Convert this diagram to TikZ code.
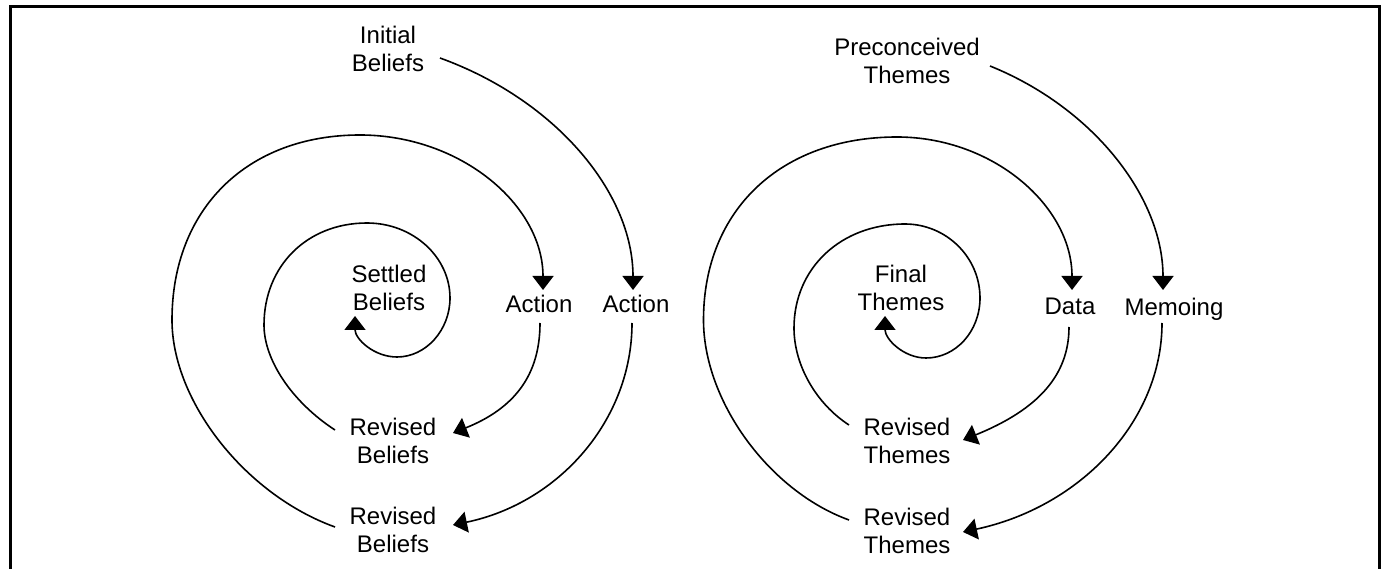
\documentclass[tikz,border=0pt]{standalone}
\usepackage{fontspec}
\setmainfont{Liberation Sans}
\usetikzlibrary{arrows.meta}
\begin{document}
\begin{tikzpicture}[x=1pt,y=-1pt,
  lbl/.style={font=\fontsize{24}{28}\selectfont, align=center, inner sep=0pt},
  flow/.style={line width=1.6pt, -{Triangle[width=21pt,length=14pt]}},
  frame/.style={line width=3pt}]
\useasboundingbox (0,0) rectangle (1382,569);
\draw[frame] (10,575) -- (10,7) -- (1379,7) -- (1379,575);

% ---------- left spiral ----------
\node[lbl] (ib)  at (388,49)  {Initial\\Beliefs};
\node[lbl] (a1)  at (539,304) {Action};
\node[lbl] (a2)  at (636,304) {Action};
\node[lbl] (sb)  at (389,288) {Settled\\Beliefs};
\node[lbl] (rb1) at (393,441) {Revised\\Beliefs};
\node[lbl] (rb2) at (393,530) {Revised\\Beliefs};
\coordinate (lw) at (172,320);
\coordinate (lt) at (360,135);
\coordinate (iw) at (264,325);
\coordinate (it) at (367,223);
\coordinate (ie) at (450,298);
\coordinate (is) at (397,357);

\draw[flow] ([shift={(52,9)}]ib.center) .. controls +(116,42) and +(0,-97) .. ([shift={(-3,-14)}]a2.center);
\draw[flow] ([shift={(-4,19)}]a2.center) .. controls +(0,97) and +(106,-22) .. ([shift={(60,-5)}]rb2.center);
\draw[flow] ([shift={(-58,-3)}]rb2.center) .. controls +(-90,-32.5) and +(0,81) .. (lw)
   .. controls +(0,-111) and +(-113,0) .. (lt)
   .. controls +(100.6,0) and +(0,-85) .. ([shift={(4,-14)}]a1.center);
\draw[flow] ([shift={(1,19)}]a1.center) .. controls +(0,52.5) and +(61,-24.5) .. ([shift={(60,-8)}]rb1.center);
\draw[flow] ([shift={(-58,-11)}]rb1.center) .. controls +(-43,-28) and +(0,35) .. (iw)
   .. controls +(0,-59) and +(-60,0) .. (it)
   .. controls +(46,0) and +(0,-41) .. (ie)
   .. controls +(0,32) and +(29,0) .. (is)
   .. controls +(-23,0) and +(0,23) .. ([shift={(-34,28)}]sb.center);

% ---------- right spiral ----------
\node[lbl] (pt)  at (907,60.5)   {Preconceived\\Themes};
\node[lbl] (dt)  at (1070,306.5) {Data};
\node[lbl, text depth=0pt] (mm) at (1174,306.5) {Memoing};
\node[lbl] (ft)  at (901,287.5)  {Final\\Themes};
\node[lbl] (rt1) at (907,441)    {Revised\\Themes};
\node[lbl] (rt2) at (907,531)    {Revised\\Themes};
\coordinate (rw)  at (703.5,320);
\coordinate (rtp) at (897,137);
\coordinate (jw)  at (794,328);
\coordinate (jt)  at (905,224);
\coordinate (je)  at (980,298);
\coordinate (js)  at (926,358);

\draw[flow] ([shift={(83,5.5)}]pt.center) .. controls +(104,42) and +(0,-92) .. ([shift={(-11,-16.5)}]mm.center);
\draw[flow] ([shift={(-12,16.5)}]mm.center) .. controls +(0,98.5) and +(117,-25) .. ([shift={(56,1)}]rt2.center);
\draw[flow] ([shift={(-58,-11)}]rt2.center) .. controls +(-80,-29) and +(0,81) .. (rw)
   .. controls +(0,-110) and +(-116,0) .. (rtp)
   .. controls +(96,0) and +(0,-84) .. ([shift={(2,-16.5)}]dt.center);
\draw[flow] ([shift={(-1,20.5)}]dt.center) .. controls +(0,49) and +(74,-30) .. ([shift={(56,-1)}]rt1.center);
\draw[flow] ([shift={(-58,-16)}]rt1.center) .. controls +(-33,-21.4) and +(0,37) .. (jw)
   .. controls +(0,-60) and +(-64,0) .. (jt)
   .. controls +(41,0) and +(0,-41) .. (je)
   .. controls +(0,33) and +(30,0) .. (js)
   .. controls +(-22.5,0) and +(0,23) .. ([shift={(-16,28.5)}]ft.center);
\end{tikzpicture}
\end{document}
